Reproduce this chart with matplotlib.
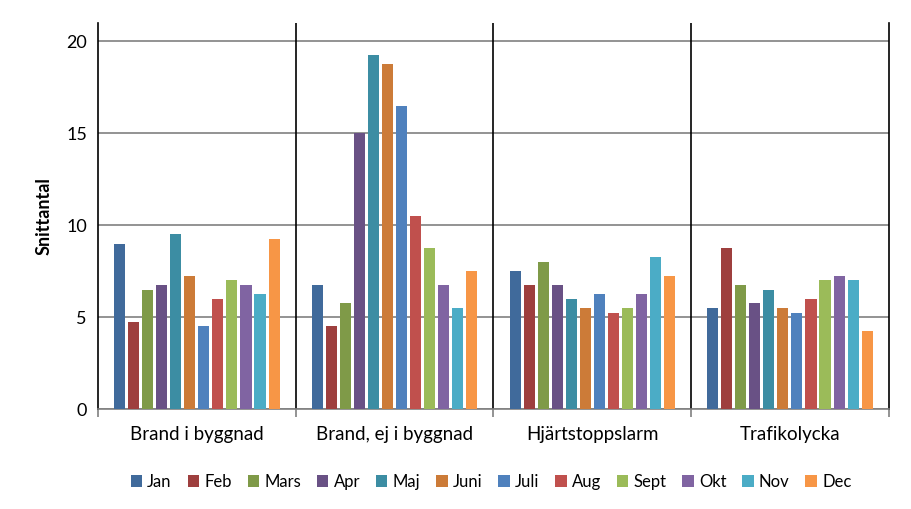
import matplotlib.pyplot as plt
import numpy as np

plt.rcParams['font.family'] = ['Lato', 'DejaVu Sans']

categories = ['Brand i byggnad', 'Brand, ej i byggnad', 'Hjärtstoppslarm', 'Trafikolycka']
months = ['Jan', 'Feb', 'Mars', 'Apr', 'Maj', 'Juni', 'Juli', 'Aug', 'Sept', 'Okt', 'Nov', 'Dec']

# one list per category, Jan..Dec
brand_i_byggnad = [9.0, 4.75, 6.5, 6.75, 9.5, 7.25, 4.5, 6.0, 7.0, 6.75, 6.25, 9.25]
brand_ej_byggnad = [6.75, 4.5, 5.75, 15.0, 19.25, 18.75, 16.5, 10.5, 8.75, 6.75, 5.5, 7.5]
hjartstopp = [7.5, 6.75, 8.0, 6.75, 6.0, 5.5, 6.25, 5.25, 5.5, 6.25, 8.25, 7.25]
trafikolycka = [5.5, 8.75, 6.75, 5.75, 6.5, 5.5, 5.25, 6.0, 7.0, 7.25, 7.0, 4.25]

colors = ['#406A9B', '#9E3F3E', '#7F9A48', '#695185', '#3C8DA3', '#CC7B38',
          '#4F81BD', '#C0504D', '#9BBB59', '#8064A2', '#4BACC6', '#F79646']

values = np.array([brand_i_byggnad, brand_ej_byggnad, hjartstopp, trafikolycka])

fig = plt.figure(figsize=(9.11, 5.09), dpi=100)
ax = fig.add_axes([0.1076, 0.196, 0.868, 0.759])

x = np.arange(len(categories))
step = 0.071
width = 0.056
for i, m in enumerate(months):
    ax.bar(x + (i - 5.5) * step, values[:, i], width, color=colors[i], label=m, zorder=3)

ax.set_xlim(-0.5, 3.5)
ax.set_ylim(0, 21)
ax.set_yticks([0, 5, 10, 15, 20])
ax.grid(axis='y', color='#808080', linewidth=1.2, zorder=0)
ax.tick_params(axis='y', length=0, labelsize=13, pad=8)

ax.set_xticks(x)
ax.set_xticklabels(categories, fontsize=13.5)
ax.set_xticks([-0.5, 0.5, 1.5, 2.5, 3.5], minor=True)
ax.tick_params(axis='x', which='major', length=0, pad=12)
ax.tick_params(axis='x', which='minor', length=6, color='#808080', width=1.2)

# black separators between categories
for b in [0.5, 1.5, 2.5]:
    ax.axvline(b, color='black', linewidth=1.2, zorder=2)
for s in ['left', 'right']:
    ax.spines[s].set_color('black')
    ax.spines[s].set_linewidth(1.2)
ax.spines['top'].set_visible(False)
ax.spines['bottom'].set_color('#808080')
ax.spines['bottom'].set_linewidth(1.2)

ax.set_ylabel('Snittantal', fontsize=13, fontweight='bold', labelpad=10)

fig.legend(loc='center', bbox_to_anchor=(0.539, 0.053), ncol=12, frameon=False,
           fontsize=12, handlelength=0.7, handleheight=0.7, handletextpad=0.3,
           columnspacing=0.95)

fig.savefig('out.png', dpi=100)
